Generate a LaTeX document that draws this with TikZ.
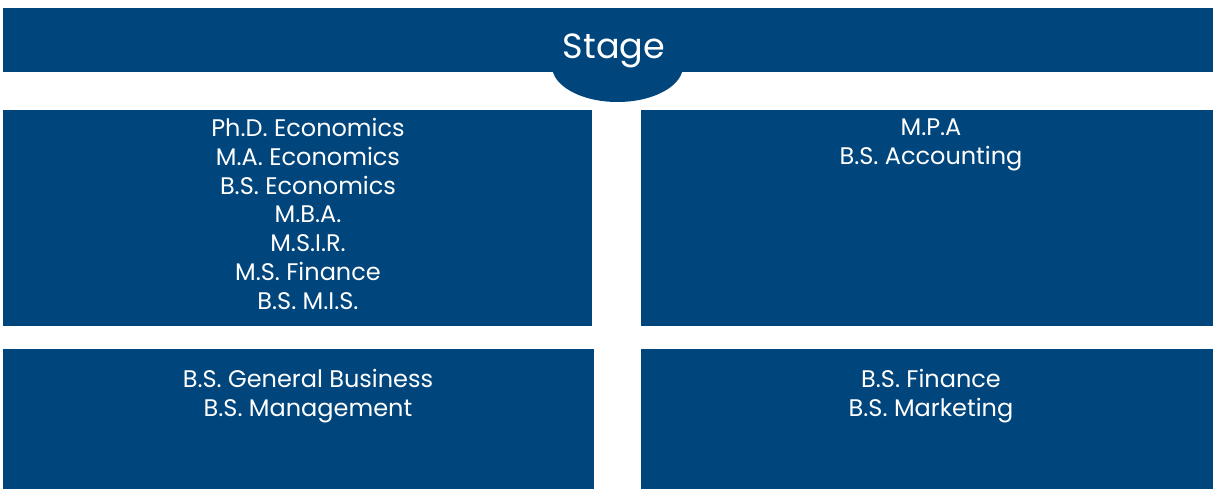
\documentclass[tikz,border=0pt]{standalone}
\usepackage{fontspec}
\setmainfont{Poppins}
\usetikzlibrary{shapes.geometric}
\definecolor{stageblue}{RGB}{0,69,124}

\begin{document}
\begin{tikzpicture}[x=1pt,y=-1pt]
  \tikzset{panel/.style={fill=stageblue,draw=none,inner sep=0pt,anchor=north west},
    degrees/.style={text=white,font=\fontsize{24}{28.8}\selectfont,align=center,anchor=north,inner sep=0pt}}
  \useasboundingbox (0,0) rectangle (1215,489);
  \node[ellipse,fill=stageblue,inner sep=0pt,minimum width=131pt,minimum height=72pt] (bump) at (617.5,66) {};
  \node[panel,minimum width=1210pt,minimum height=64pt] (banner) at (3,8) {};
  \node[text=white,font=\fontsize{35}{36}\selectfont] (stage) at (614,51) {Stage};
  \node[panel,minimum width=589pt,minimum height=216pt] (econ) at (3,110) {};
  \node[panel,minimum width=572pt,minimum height=216pt] (acct) at (641,110) {};
  \node[panel,minimum width=591pt,minimum height=140pt] (mgmt) at (3,349) {};
  \node[panel,minimum width=572pt,minimum height=140pt] (fin) at (641,349) {};
  \node[degrees] (econ text) at (308,118) {Ph.D. Economics\\M.A. Economics\\B.S. Economics\\M.B.A.\\M.S.I.R.\\M.S. Finance\\B.S. M.I.S.};
  \node[degrees] (acct text) at (931,119) {M.P.A\\B.S. Accounting};
  \node[degrees] (mgmt text) at (308,369) {B.S. General Business\\B.S. Management};
  \node[degrees] (fin text) at (931,369) {B.S. Finance\\B.S. Marketing};
\end{tikzpicture}
\end{document}
